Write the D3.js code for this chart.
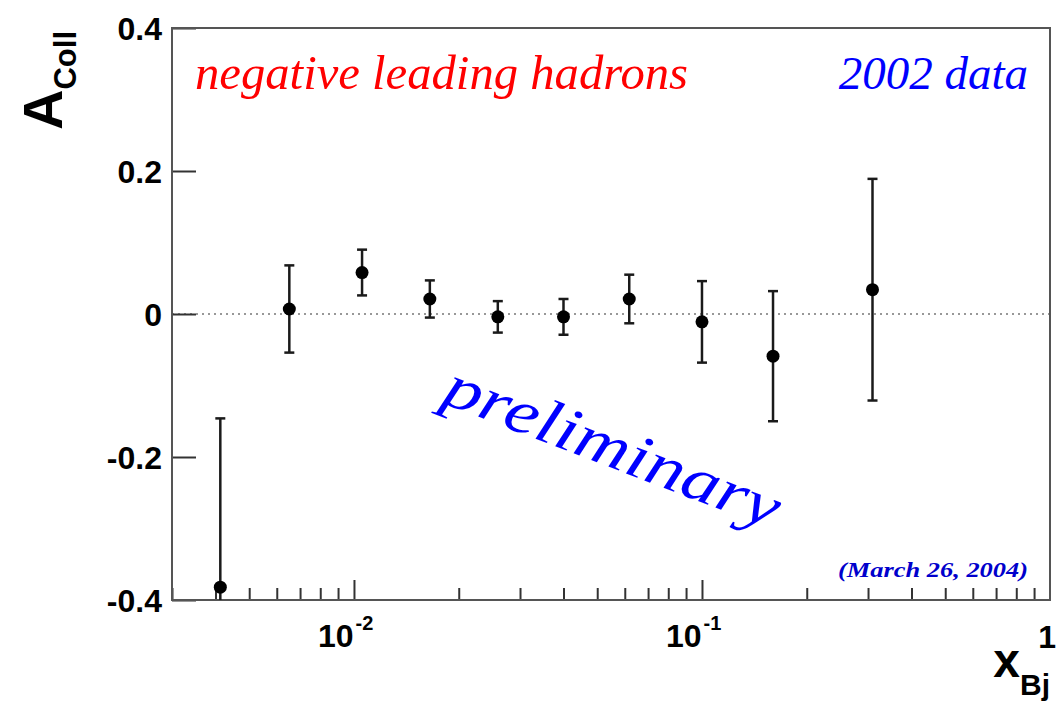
<!DOCTYPE html>
<html lang="en">
<head>
<meta charset="UTF-8">
<title>A_Coll vs x_Bj</title>
<script src="https://cdn.jsdelivr.net/npm/d3@7"></script>
<style>
  body { margin: 0; background: #fff; }
  .tick-lbl { font-family: "Liberation Sans", Arial, sans-serif; font-weight: bold; fill: #000; }
  .note { font-family: "Liberation Serif", "Times New Roman", serif; font-style: italic; }
</style>
</head>
<body>
<div id="chart"></div>
<script>
// data
var xBj   = [0.00413, 0.00652, 0.01055, 0.01652, 0.0259, 0.0400, 0.0618, 0.100, 0.160, 0.309];
var aColl = [-0.382, 0.007, 0.058, 0.021, -0.004, -0.004, 0.021, -0.011, -0.059, 0.034];
var aErr  = [0.236, 0.061, 0.032, 0.026, 0.022, 0.025, 0.034, 0.057, 0.091, 0.155];

var yTicks = [-0.4, -0.2, 0, 0.2, 0.4];
var yTickLabels = ["-0.4", "-0.2", "0", "0.2", "0.4"];
var xMajor = [0.01, 0.1];
var xMajorExp = ["-2", "-1"];

var width = 1064, height = 709;
var frame = {left: 172, right: 1050, top: 28, bottom: 600};

var svg = d3.select("#chart").append("svg")
    .attr("width", width)
    .attr("height", height);

var x = d3.scaleLog().domain([0.003, 1]).range([frame.left, frame.right]);
var y = d3.scaleLinear().domain([-0.4, 0.4]).range([frame.bottom, frame.top]);

// minor ticks 2..9 per decade
var xMinor = [];
[0.001, 0.01, 0.1].forEach(function(dec) {
  for (var k = 2; k <= 9; k++) {
    var v = dec * k;
    if (v >= 0.003 && v < 1) xMinor.push(v);
  }
});

svg.append("clipPath").attr("id", "frame-clip")
  .append("rect")
    .attr("x", frame.left).attr("y", frame.top)
    .attr("width", frame.right - frame.left).attr("height", frame.bottom - frame.top);

// zero line
svg.append("line")
    .attr("x1", frame.left).attr("x2", frame.right)
    .attr("y1", y(0)).attr("y2", y(0))
    .style("stroke", "#777")
    .style("stroke-width", 1.5)
    .style("stroke-dasharray", "2,4");

// axes (ticks inside)
function styleAxis(g) {
  g.select(".domain").remove();
  g.selectAll("line").style("stroke", "#333").style("stroke-width", 2);
  g.selectAll("text").remove();
}

svg.append("g")
    .attr("transform", "translate(0," + frame.bottom + ")")
    .call(d3.axisBottom(x).tickValues(xMinor).tickSize(-12))
    .call(styleAxis);

svg.append("g")
    .attr("transform", "translate(0," + frame.bottom + ")")
    .call(d3.axisBottom(x).tickValues(xMajor).tickSize(-20))
    .call(styleAxis);

svg.append("g")
    .attr("transform", "translate(" + frame.left + ",0)")
    .call(d3.axisLeft(y).tickValues(yTicks).tickSize(-24))
    .call(styleAxis);

// frame
svg.append("rect")
    .attr("x", frame.left).attr("y", frame.top)
    .attr("width", frame.right - frame.left).attr("height", frame.bottom - frame.top)
    .style("fill", "none")
    .style("stroke", "#555")
    .style("stroke-width", 2);

// y tick labels
svg.selectAll(".ylbl").data(yTicks)
  .enter().append("text")
    .attr("class", "tick-lbl")
    .attr("x", frame.left - 10)
    .attr("y", function(d) { return y(d); })
    .attr("dy", "0.36em")
    .attr("text-anchor", "end")
    .style("font-size", "32px")
    .text(function(d, i) { return yTickLabels[i]; });

// x tick labels 10^n
var xl = svg.selectAll(".xlbl").data(xMajor)
  .enter().append("text")
    .attr("class", "tick-lbl")
    .attr("x", function(d) { return x(d) - 36; })
    .attr("y", 647)
    .style("font-size", "32px");
xl.append("tspan").text("10");
xl.append("tspan")
    .attr("dy", -17)
    .attr("dx", 2)
    .style("font-size", "20px")
    .text(function(d, i) { return xMajorExp[i]; });

svg.append("text")
    .attr("class", "tick-lbl")
    .attr("x", x(1) + 6)
    .attr("y", 648)
    .attr("text-anchor", "end")
    .style("font-size", "32px")
    .text("1");

// axis titles
var yt = svg.append("text")
    .attr("class", "tick-lbl")
    .attr("transform", "translate(62,130) rotate(-90)")
    .style("font-size", "56px")
    .text("A");
yt.append("tspan")
    .attr("dy", 14)
    .style("font-size", "31px")
    .text("Coll");

var xt = svg.append("text")
    .attr("class", "tick-lbl")
    .attr("x", 1050)
    .attr("y", 677)
    .attr("text-anchor", "end")
    .style("font-size", "48px")
    .text("x");
xt.append("tspan")
    .attr("dy", 18)
    .style("font-size", "30px")
    .text("Bj");

// error bars + points
var plot = svg.append("g").attr("clip-path", "url(#frame-clip)");
var pts = d3.range(xBj.length);

plot.selectAll(".ebar").data(pts)
  .enter().append("line")
    .attr("x1", function(i) { return x(xBj[i]); })
    .attr("x2", function(i) { return x(xBj[i]); })
    .attr("y1", function(i) { return y(aColl[i] + aErr[i]); })
    .attr("y2", function(i) { return y(aColl[i] - aErr[i]); })
    .style("stroke", "#1a1a1a")
    .style("stroke-width", 2.5);

[1, -1].forEach(function(s) {
  plot.selectAll(".cap" + s).data(pts)
    .enter().append("line")
      .attr("x1", function(i) { return x(xBj[i]) - 5; })
      .attr("x2", function(i) { return x(xBj[i]) + 5; })
      .attr("y1", function(i) { return y(aColl[i] + s * aErr[i]); })
      .attr("y2", function(i) { return y(aColl[i] + s * aErr[i]); })
      .style("stroke", "#1a1a1a")
      .style("stroke-width", 2.5);
});

plot.selectAll(".pt").data(pts)
  .enter().append("circle")
    .attr("cx", function(i) { return x(xBj[i]); })
    .attr("cy", function(i) { return y(aColl[i]); })
    .attr("r", 6.5)
    .style("fill", "#000");

// annotations
svg.append("text")
    .attr("class", "note")
    .attr("x", 195).attr("y", 89)
    .attr("textLength", 493)
    .attr("lengthAdjust", "spacingAndGlyphs")
    .style("font-size", "48px")
    .style("fill", "#ff0000")
    .text("negative leading hadrons");

svg.append("text")
    .attr("class", "note")
    .attr("x", 1028).attr("y", 89)
    .attr("text-anchor", "end")
    .style("font-size", "47px")
    .style("fill", "#0000ff")
    .text("2002 data");

svg.append("text")
    .attr("class", "note")
    .attr("transform", "translate(440,402) rotate(21)")
    .attr("textLength", 355)
    .attr("lengthAdjust", "spacingAndGlyphs")
    .style("font-size", "62px")
    .style("fill", "#0000ff")
    .text("preliminary");

svg.append("text")
    .attr("class", "note")
    .attr("x", 1028).attr("y", 577)
    .attr("text-anchor", "end")
    .attr("textLength", 190)
    .attr("lengthAdjust", "spacingAndGlyphs")
    .style("font-size", "21px")
    .style("font-weight", "bold")
    .style("fill", "#0000cc")
    .text("(March 26, 2004)");
</script>
</body>
</html>
